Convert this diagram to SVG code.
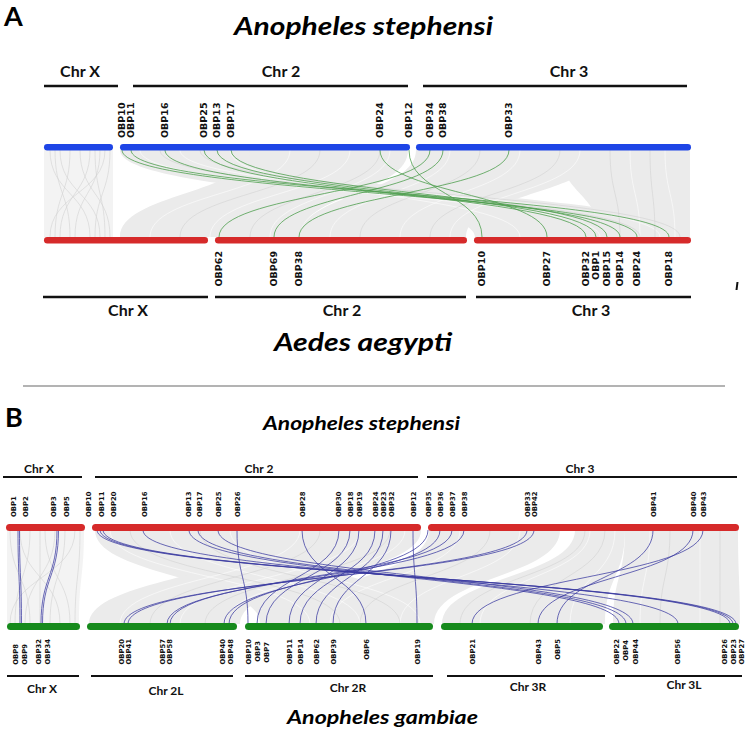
<svg xmlns="http://www.w3.org/2000/svg" width="750" height="732" viewBox="0 0 750 732">
<style>
.lbA{font-family:"DejaVu Sans",sans-serif;font-weight:bold;font-size:9.5px;fill:#111}
.lbB{font-family:"DejaVu Sans",sans-serif;font-weight:bold;font-size:6.8px;fill:#111}
.end{text-anchor:end}
.chrA{font-family:Lato,"Open Sans",sans-serif;font-weight:bold;font-size:16px;text-anchor:middle;fill:#111}
.chrB{font-family:Lato,"Open Sans",sans-serif;font-weight:bold;font-size:12px;text-anchor:middle;fill:#111}
.ttl{font-family:Lato,"Open Sans",sans-serif;font-weight:bold;font-style:italic;fill:#000}
.pan{font-family:Lato,"Open Sans",sans-serif;font-weight:bold;font-size:27px;fill:#000}
.cl{stroke:#111;stroke-width:2.5;fill:none}
.clB{stroke:#111;stroke-width:2;fill:none}
.blue{fill:#1e45e6}
.red{fill:#d62a2a}
.green{fill:#168a1c}
.rib{fill:#ebebeb}
.gl{fill:none;stroke:#d2d2d2;stroke-width:0.6}
.wl{fill:none;stroke:#ffffff;stroke-width:0.7;opacity:0.8}
.hA{fill:none;stroke:#4e9e4e;stroke-width:0.8}
.hB{fill:none;stroke:#3a3aa0;stroke-width:0.75}
</style>
<rect width="750" height="732" fill="#ffffff"/>

<g id="panelA-titles">
<text class="pan" x="4" y="26">A</text>
<text class="ttl" x="234" y="35" font-size="25" textLength="259" lengthAdjust="spacingAndGlyphs">Anopheles stephensi</text>
<text class="ttl" x="274" y="351" font-size="25" textLength="178" lengthAdjust="spacingAndGlyphs">Aedes aegypti</text>
</g>

<g id="connectors">
<g id="gray-A">
<path class="rib" d="M44 150 C44 193.5 44 193.5 44 237 L113 237 C113 193.5 113 193.5 113 150 Z" fill-opacity="0.6"/>
<path class="rib" d="M120 150 C120 193.5 475 193.5 475 237 L690 237 C690 193.5 250 193.5 250 150 Z"/>
<path class="rib" d="M250 150 C250 193.5 120 193.5 120 237 L300 237 C300 193.5 408 193.5 408 150 Z"/>
<path class="rib" d="M416 150 C416 193.5 300 193.5 300 237 L466 237 C466 193.5 600 193.5 600 150 Z"/>
<path class="rib" d="M560 150 C560 193.5 600 193.5 600 237 L690 237 C690 193.5 690 193.5 690 150 Z"/>
<path class="gl" d="M50 150 C50 193.5 90 193.5 90 237 M60 150 C60 193.5 100 193.5 100 237 M70 150 C70 193.5 55 193.5 55 237 M80 150 C80 193.5 110 193.5 110 237 M90 150 C90 193.5 60 193.5 60 237 M100 150 C100 193.5 75 193.5 75 237 M105 150 C105 193.5 50 193.5 50 237 M110 150 C110 193.5 95 193.5 95 237 M55 150 C55 193.5 70 193.5 70 237 M95 150 C95 193.5 105 193.5 105 237"/>
<path class="wl" d="M140 150 C140 193.5 600 193.5 600 237 M180 150 C180 193.5 660 193.5 660 237 M230 150 C230 193.5 520 193.5 520 237 M290 150 C290 193.5 150 193.5 150 237 M350 150 C350 193.5 210 193.5 210 237 M390 150 C390 193.5 270 193.5 270 237 M450 150 C450 193.5 330 193.5 330 237 M520 150 C520 193.5 400 193.5 400 237 M580 150 C580 193.5 450 193.5 450 237 M630 150 C630 193.5 640 193.5 640 237 M665 150 C665 193.5 675 193.5 675 237"/>
<path class="gl" d="M160 150 C160 193.5 640 193.5 640 237 M200 150 C200 193.5 680 193.5 680 237 M320 150 C320 193.5 180 193.5 180 237 M380 150 C380 193.5 250 193.5 250 237 M480 150 C480 193.5 360 193.5 360 237 M560 150 C560 193.5 430 193.5 430 237 M610 150 C610 193.5 620 193.5 620 237 M650 150 C650 193.5 655 193.5 655 237"/>
</g>
<g id="green-A">
<path class="hA" d="M122 150 C122 193.5 637 193.5 637 237"/>
<path class="hA" d="M131 150 C131 193.5 669 193.5 669 237"/>
<path class="hA" d="M165 150 C165 193.5 620 193.5 620 237"/>
<path class="hA" d="M204 150 C204 193.5 586 193.5 586 237"/>
<path class="hA" d="M217 150 C217 193.5 596 193.5 596 237"/>
<path class="hA" d="M231 150 C231 193.5 607 193.5 607 237"/>
<path class="hA" d="M380 150 C380 193.5 547 193.5 547 237"/>
<path class="hA" d="M409 150 C409 193.5 482 193.5 482 237"/>
<path class="hA" d="M430 150 C430 193.5 219 193.5 219 237"/>
<path class="hA" d="M443 150 C443 193.5 274 193.5 274 237"/>
<path class="hA" d="M509 150 C509 193.5 299 193.5 299 237"/>
</g>
<g id="gray-B">
<path class="rib" d="M7 530 C7 577 7 577 7 624 L79 624 C79 577 84 577 84 530 Z" fill-opacity="0.6"/>
<path class="rib" d="M95 530 C95 577 260 577 260 624 L434 624 C434 577 270 577 270 530 Z"/>
<path class="rib" d="M270 530 C270 577 89 577 89 624 L240 624 C240 577 421 577 421 530 Z"/>
<path class="rib" d="M429 530 C429 577 300 577 300 624 L434 624 C434 577 560 577 560 530 Z"/>
<path class="rib" d="M575 530 C575 577 442 577 442 624 L605 624 C605 577 625 577 625 530 Z"/>
<path class="rib" d="M625 530 C625 577 613 577 613 624 L740 624 C740 577 738 577 738 530 Z"/>
<path class="gl" d="M10 530 C10 577 30 577 30 624 M20 530 C20 577 60 577 60 624 M30 530 C30 577 15 577 15 624 M45 530 C45 577 70 577 70 624 M55 530 C55 577 25 577 25 624 M65 530 C65 577 50 577 50 624 M75 530 C75 577 10 577 10 624 M80 530 C80 577 75 577 75 624 M40 530 C40 577 40 577 40 624"/>
<path class="wl" d="M110 530 C110 577 310 577 310 624 M170 530 C170 577 360 577 360 624 M230 530 C230 577 420 577 420 624 M300 530 C300 577 120 577 120 624 M360 530 C360 577 180 577 180 624 M405 530 C405 577 225 577 225 624 M460 530 C460 577 330 577 330 624 M520 530 C520 577 400 577 400 624 M590 530 C590 577 480 577 480 624 M615 530 C615 577 570 577 570 624 M650 530 C650 577 640 577 640 624 M700 530 C700 577 700 577 700 624"/>
<path class="gl" d="M130 530 C130 577 340 577 340 624 M200 530 C200 577 400 577 400 624 M320 530 C320 577 150 577 150 624 M390 530 C390 577 205 577 205 624 M490 530 C490 577 360 577 360 624 M585 530 C585 577 460 577 460 624 M605 530 C605 577 530 577 530 624 M670 530 C670 577 660 577 660 624 M720 530 C720 577 720 577 720 624"/>
</g>
<g id="blue-B">
<path class="hB" d="M18 530 C18 577 20 577 20 624"/>
<path class="hB" d="M19.5 530 C19.5 577 21.5 577 21.5 624"/>
<path class="hB" d="M57 530 C57 577 41 577 41 624"/>
<path class="hB" d="M58.5 530 C58.5 577 42.5 577 42.5 624"/>
<path class="hB" d="M237 530 C237 577 248 577 248 624"/>
<path class="hB" d="M302 530 C302 577 366 577 366 624"/>
<path class="hB" d="M339 530 C339 577 257 577 257 624"/>
<path class="hB" d="M350 530 C350 577 266 577 266 624"/>
<path class="hB" d="M359 530 C359 577 289 577 289 624"/>
<path class="hB" d="M375 530 C375 577 300 577 300 624"/>
<path class="hB" d="M383 530 C383 577 316 577 316 624"/>
<path class="hB" d="M391 530 C391 577 333 577 333 624"/>
<path class="hB" d="M413 530 C413 577 417 577 417 624"/>
<path class="hB" d="M97 530 C97 577 736 577 736 624"/>
<path class="hB" d="M100 530 C100 577 733 577 733 624"/>
<path class="hB" d="M103 530 C103 577 730 577 730 624"/>
<path class="hB" d="M143 530 C143 577 678 577 678 624"/>
<path class="hB" d="M189 530 C189 577 619 577 619 624"/>
<path class="hB" d="M198 530 C198 577 626 577 626 624"/>
<path class="hB" d="M218 530 C218 577 633 577 633 624"/>
<path class="hB" d="M428 530 C428 577 229 577 229 624"/>
<path class="hB" d="M440 530 C440 577 224 577 224 624"/>
<path class="hB" d="M452 530 C452 577 170 577 170 624"/>
<path class="hB" d="M464 530 C464 577 167 577 167 624"/>
<path class="hB" d="M527 530 C527 577 128 577 128 624"/>
<path class="hB" d="M534 530 C534 577 124 577 124 624"/>
<path class="hB" d="M653 530 C653 577 557 577 557 624"/>
<path class="hB" d="M693 530 C693 577 538 577 538 624"/>
<path class="hB" d="M703 530 C703 577 472 577 472 624"/>
</g>
</g>

<g id="A-st-chrX">
<text class="chrA" x="80" y="77">Chr X</text>
<line class="cl" x1="44" y1="86" x2="118" y2="86"/>
<rect class="blue" x="44" y="144" width="69" height="6.5" rx="3.2"/>
</g>
<g id="A-st-chr2">
<text class="chrA" x="281" y="77">Chr 2</text>
<line class="cl" x1="133" y1="86" x2="408" y2="86"/>
<rect class="blue" x="120" y="144" width="290" height="6.5" rx="3.2"/>
<text class="lbA" transform="translate(125.4,138) rotate(-90)">OBP10</text>
<text class="lbA" transform="translate(134.4,138) rotate(-90)">OBP11</text>
<text class="lbA" transform="translate(168.4,138) rotate(-90)">OBP16</text>
<text class="lbA" transform="translate(207.4,138) rotate(-90)">OBP25</text>
<text class="lbA" transform="translate(220.4,138) rotate(-90)">OBP13</text>
<text class="lbA" transform="translate(234.4,138) rotate(-90)">OBP17</text>
<text class="lbA" transform="translate(383.4,138) rotate(-90)">OBP24</text>
<text class="lbA" transform="translate(412.4,138) rotate(-90)">OBP12</text>
</g>
<g id="A-st-chr3">
<text class="chrA" x="569" y="77">Chr 3</text>
<line class="cl" x1="423" y1="86" x2="687" y2="86"/>
<rect class="blue" x="416" y="144" width="275" height="6.5" rx="3.2"/>
<text class="lbA" transform="translate(433.4,138) rotate(-90)">OBP34</text>
<text class="lbA" transform="translate(446.4,138) rotate(-90)">OBP38</text>
<text class="lbA" transform="translate(512.4,138) rotate(-90)">OBP33</text>
</g>

<g id="A-ae-chrX">
<rect class="red" x="44" y="237" width="164" height="6.5" rx="3.2"/>
<line class="cl" x1="43" y1="297" x2="208" y2="297"/>
<text class="chrA" x="128" y="316">Chr X</text>
</g>
<g id="A-ae-chr2">
<rect class="red" x="215" y="237" width="252" height="6.5" rx="3.2"/>
<line class="cl" x1="215" y1="297" x2="466" y2="297"/>
<text class="chrA" x="342" y="316">Chr 2</text>
<text class="lbA end" transform="translate(222.4,251) rotate(-90)">OBP62</text>
<text class="lbA end" transform="translate(277.4,251) rotate(-90)">OBP69</text>
<text class="lbA end" transform="translate(302.4,251) rotate(-90)">OBP38</text>
</g>
<g id="A-ae-chr3">
<rect class="red" x="474" y="237" width="217" height="6.5" rx="3.2"/>
<line class="cl" x1="476" y1="297" x2="691" y2="297"/>
<text class="chrA" x="591" y="316">Chr 3</text>
<text class="lbA end" transform="translate(485.4,251) rotate(-90)">OBP10</text>
<text class="lbA end" transform="translate(550.4,251) rotate(-90)">OBP27</text>
<text class="lbA end" transform="translate(589.4,251) rotate(-90)">OBP32</text>
<text class="lbA end" transform="translate(599.4,251) rotate(-90)">OBP1</text>
<text class="lbA end" transform="translate(610.4,251) rotate(-90)">OBP15</text>
<text class="lbA end" transform="translate(623.4,251) rotate(-90)">OBP14</text>
<text class="lbA end" transform="translate(640.4,251) rotate(-90)">OBP24</text>
<text class="lbA end" transform="translate(672.4,251) rotate(-90)">OBP18</text>
</g>
<g id="mark">
<line x1="737.5" y1="282" x2="736.5" y2="290" stroke="#111" stroke-width="2"/>
</g>

<g id="separator">
<line x1="23" y1="386" x2="725" y2="386" stroke="#9a9a9a" stroke-width="1.6"/>
</g>

<g id="panelB-titles">
<text class="pan" x="5" y="427">B</text>
<text class="ttl" x="263" y="430" font-size="19" textLength="197" lengthAdjust="spacingAndGlyphs">Anopheles stephensi</text>
<text class="ttl" x="287" y="724" font-size="19" textLength="191" lengthAdjust="spacingAndGlyphs">Anopheles gambiae</text>
</g>

<g id="B-st-chrX">
<text class="chrB" x="39" y="473">Chr X</text>
<line class="clB" x1="3" y1="477" x2="82" y2="477"/>
<rect class="red" x="6" y="524" width="79" height="7" rx="3.5"/>
<text class="lbB" transform="translate(15.5,517) rotate(-90)">OBP1</text>
<text class="lbB" transform="translate(27.5,517) rotate(-90)">OBP2</text>
<text class="lbB" transform="translate(55.5,517) rotate(-90)">OBP3</text>
<text class="lbB" transform="translate(68.5,517) rotate(-90)">OBP5</text>
</g>
<g id="B-st-chr2">
<text class="chrB" x="259" y="473">Chr 2</text>
<line class="clB" x1="95" y1="477" x2="418" y2="477"/>
<rect class="red" x="92" y="524" width="329" height="7" rx="3.5"/>
<text class="lbB" transform="translate(90.5,517) rotate(-90)">OBP10</text>
<text class="lbB" transform="translate(103.5,517) rotate(-90)">OBP11</text>
<text class="lbB" transform="translate(115.5,517) rotate(-90)">OBP20</text>
<text class="lbB" transform="translate(146.5,517) rotate(-90)">OBP16</text>
<text class="lbB" transform="translate(190.5,517) rotate(-90)">OBP13</text>
<text class="lbB" transform="translate(202,517) rotate(-90)">OBP17</text>
<text class="lbB" transform="translate(220.5,517) rotate(-90)">OBP25</text>
<text class="lbB" transform="translate(239.5,517) rotate(-90)">OBP26</text>
<text class="lbB" transform="translate(304.5,517) rotate(-90)">OBP28</text>
<text class="lbB" transform="translate(340.5,517) rotate(-90)">OBP30</text>
<text class="lbB" transform="translate(352.5,517) rotate(-90)">OBP18</text>
<text class="lbB" transform="translate(361.5,517) rotate(-90)">OBP19</text>
<text class="lbB" transform="translate(377.5,517) rotate(-90)">OBP24</text>
<text class="lbB" transform="translate(385.5,517) rotate(-90)">OBP23</text>
<text class="lbB" transform="translate(393.5,517) rotate(-90)">OBP32</text>
<text class="lbB" transform="translate(415.5,517) rotate(-90)">OBP12</text>
</g>
<g id="B-st-chr3">
<text class="chrB" x="580" y="473">Chr 3</text>
<line class="clB" x1="427" y1="477" x2="737" y2="477"/>
<rect class="red" x="428" y="524" width="311" height="7" rx="3.5"/>
<text class="lbB" transform="translate(430.5,517) rotate(-90)">OBP35</text>
<text class="lbB" transform="translate(442.5,517) rotate(-90)">OBP36</text>
<text class="lbB" transform="translate(454.5,517) rotate(-90)">OBP37</text>
<text class="lbB" transform="translate(466.5,517) rotate(-90)">OBP38</text>
<text class="lbB" transform="translate(529.5,517) rotate(-90)">OBP33</text>
<text class="lbB" transform="translate(536.5,517) rotate(-90)">OBP42</text>
<text class="lbB" transform="translate(655.5,517) rotate(-90)">OBP41</text>
<text class="lbB" transform="translate(695.5,517) rotate(-90)">OBP40</text>
<text class="lbB" transform="translate(705.5,517) rotate(-90)">OBP43</text>
</g>

<g id="B-ga-chrX">
<rect class="green" x="7" y="623" width="73" height="7" rx="3.5"/>
<line class="clB" x1="7" y1="676" x2="79" y2="676"/>
<text class="chrB" x="42" y="693">Chr X</text>
<text class="lbB end" transform="translate(17.5,644) rotate(-90)">OBP8</text>
<text class="lbB end" transform="translate(26.5,644) rotate(-90)">OBP9</text>
<text class="lbB end" transform="translate(40.5,639) rotate(-90)">OBP32</text>
<text class="lbB end" transform="translate(49.5,639) rotate(-90)">OBP34</text>
</g>
<g id="B-ga-chr2L">
<rect class="green" x="87" y="623" width="150" height="7" rx="3.5"/>
<line class="clB" x1="91" y1="676" x2="233" y2="676"/>
<text class="chrB" x="166" y="695">Chr 2L</text>
<text class="lbB end" transform="translate(123.5,639) rotate(-90)">OBP20</text>
<text class="lbB end" transform="translate(131,639) rotate(-90)">OBP41</text>
<text class="lbB end" transform="translate(164.5,639) rotate(-90)">OBP57</text>
<text class="lbB end" transform="translate(172,639) rotate(-90)">OBP58</text>
<text class="lbB end" transform="translate(224.5,639) rotate(-90)">OBP40</text>
<text class="lbB end" transform="translate(232.5,639) rotate(-90)">OBP48</text>
</g>
<g id="B-ga-chr2R">
<rect class="green" x="245" y="623" width="188" height="7" rx="3.5"/>
<line class="clB" x1="245" y1="676" x2="433" y2="676"/>
<text class="chrB" x="348" y="692">Chr 2R</text>
<text class="lbB end" transform="translate(250.5,639) rotate(-90)">OBP10</text>
<text class="lbB end" transform="translate(259.5,641) rotate(-90)">OBP3</text>
<text class="lbB end" transform="translate(268.5,642) rotate(-90)">OBP7</text>
<text class="lbB end" transform="translate(291.5,639) rotate(-90)">OBP11</text>
<text class="lbB end" transform="translate(302.5,639) rotate(-90)">OBP14</text>
<text class="lbB end" transform="translate(318.5,639) rotate(-90)">OBP62</text>
<text class="lbB end" transform="translate(335.5,639) rotate(-90)">OBP39</text>
<text class="lbB end" transform="translate(368.5,639) rotate(-90)">OBP6</text>
<text class="lbB end" transform="translate(419.5,639) rotate(-90)">OBP19</text>
</g>
<g id="B-ga-chr3R">
<rect class="green" x="441" y="623" width="162" height="7" rx="3.5"/>
<line class="clB" x1="447" y1="676" x2="605" y2="676"/>
<text class="chrB" x="528" y="691">Chr 3R</text>
<text class="lbB end" transform="translate(474.5,639) rotate(-90)">OBP21</text>
<text class="lbB end" transform="translate(540.5,639) rotate(-90)">OBP43</text>
<text class="lbB end" transform="translate(559.5,639) rotate(-90)">OBP5</text>
</g>
<g id="B-ga-chr3L">
<rect class="green" x="609" y="623" width="130" height="7" rx="3.5"/>
<line class="clB" x1="615" y1="676" x2="742" y2="676"/>
<text class="chrB" x="684" y="689">Chr 3L</text>
<text class="lbB end" transform="translate(618.5,639) rotate(-90)">OBP22</text>
<text class="lbB end" transform="translate(628,640) rotate(-90)">OBP4</text>
<text class="lbB end" transform="translate(637.5,639) rotate(-90)">OBP44</text>
<text class="lbB end" transform="translate(679.5,639) rotate(-90)">OBP56</text>
<text class="lbB end" transform="translate(726.5,639) rotate(-90)">OBP26</text>
<text class="lbB end" transform="translate(735.5,639) rotate(-90)">OBP23</text>
<text class="lbB end" transform="translate(744,639) rotate(-90)">OBP27</text>
</g>
</svg>
